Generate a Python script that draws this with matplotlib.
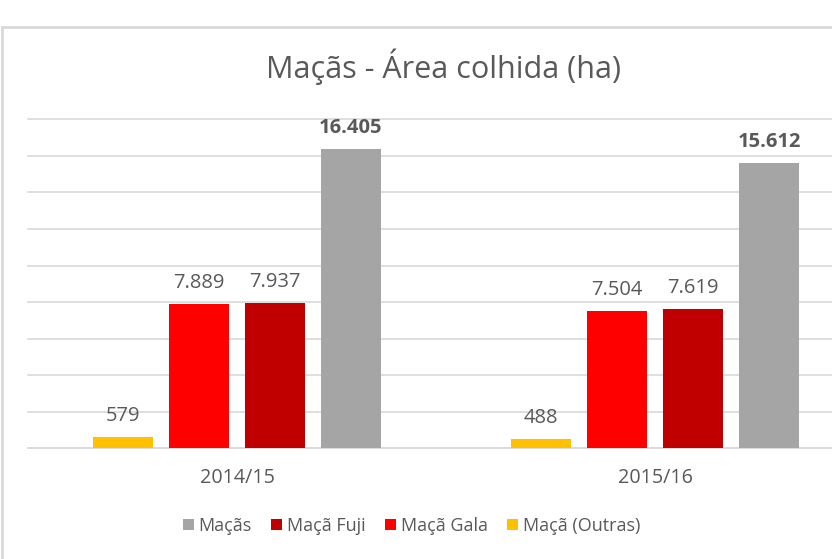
import matplotlib
matplotlib.use("Agg")
import matplotlib.pyplot as plt
from matplotlib.patches import Patch
from matplotlib.lines import Line2D
import numpy as np

plt.rcParams['font.family'] = ['Open Sans', 'DejaVu Sans']

categories = ["2014/15", "2015/16"]
series_names = ["Maçã (Outras)", "Maçã Gala", "Maçã Fuji", "Maçãs"]
outras = [579, 488]
gala = [7889, 7504]
fuji = [7937, 7619]
macas = [16405, 15612]
labels_outras = ["579", "488"]
labels_gala = ["7.889", "7.504"]
labels_fuji = ["7.937", "7.619"]
labels_macas = ["16.405", "15.612"]
colors = ["#FFC000", "#FF0000", "#C00000", "#A5A5A5"]

W, H = 832, 559
fig = plt.figure(figsize=(W / 100, H / 100), dpi=100)
fig.patch.set_facecolor("white")

left, right, bottom, top = 28, 864, 448, 119.5
ax = fig.add_axes([left / W, 1 - bottom / H, (right - left) / W, (bottom - top) / H])
ax.set_xlim(-0.5, 1.5)
ax.set_ylim(0, 18000)

x = np.arange(len(categories))
pitch = 76 / 418
width = 60 / 418
all_vals = [outras, gala, fuji, macas]
all_labels = [labels_outras, labels_gala, labels_fuji, labels_macas]
for i, (vals, labs, c) in enumerate(zip(all_vals, all_labels, colors)):
    pos = x + (i - 1.5) * pitch
    ax.bar(pos, vals, width=width, color=c, zorder=3)
    for p, v, t in zip(pos, vals, labs):
        ax.annotate(t, (p, v), xytext=(0, 11.5), textcoords="offset points",
                    ha="center", va="baseline", fontsize=14.5, color="#595959",
                    fontweight="bold" if i == 3 else "normal")

ax.set_yticks(np.arange(0, 18001, 2000))
ax.yaxis.grid(True, color="#D9D9D9", lw=1.2)
for gl in ax.get_ygridlines():
    gl.set_clip_on(False)
ax.set_axisbelow(True)
ax.tick_params(axis="y", left=False, labelleft=False)
ax.tick_params(axis="x", bottom=False, labelsize=14.2, labelcolor="#595959", pad=11)
ax.set_xticks(x)
ax.set_xticklabels(categories)
for s in ["left", "right", "top"]:
    ax.spines[s].set_visible(False)
ax.spines["bottom"].set_color("#D9D9D9")
ax.spines["bottom"].set_linewidth(1.2)

fig.text(444 / W, 1 - 67 / H, "Maçãs - Área colhida (ha)", ha="center", va="center",
         fontsize=22, color="#595959")

handles = [Patch(facecolor=colors[i]) for i in [3, 2, 1, 0]]
names = [series_names[i] for i in [3, 2, 1, 0]]
fig.legend(handles, names, loc="center", bbox_to_anchor=(411.5 / W, 1 - 526 / H),
           ncol=4, frameon=False, fontsize=13, labelcolor="#595959",
           handlelength=0.6, handleheight=0.6, handletextpad=0.25, columnspacing=1.1)

# chart border (cropped)
fig.add_artist(Line2D([2 / W, 2 / W], [0, 1 - 27 / H], transform=fig.transFigure,
                      color="#D9D9D9", lw=2))
fig.add_artist(Line2D([2 / W, 1], [1 - 27 / H, 1 - 27 / H], transform=fig.transFigure,
                      color="#D9D9D9", lw=2))

fig.savefig("out.png", dpi=100)
